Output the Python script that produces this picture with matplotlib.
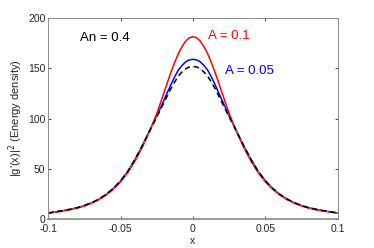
import numpy as np
import matplotlib
matplotlib.use("Agg")
import matplotlib.pyplot as plt

plt.rcParams['font.family'] = ['Liberation Sans', 'DejaVu Sans']

# sample positions (denser near the peak)
x = [-0.1, -0.095, -0.09, -0.085, -0.08, -0.075, -0.07, -0.065, -0.06, -0.055, -0.05,
     -0.045, -0.04, -0.035, -0.03, -0.025, -0.0225, -0.02, -0.0175, -0.015, -0.0125,
     -0.01, -0.0075, -0.005, -0.0025, 0, 0.0025, 0.005, 0.0075, 0.01, 0.0125, 0.015,
     0.0175, 0.02, 0.0225, 0.025, 0.03, 0.035, 0.04, 0.045, 0.05, 0.055, 0.06, 0.065,
     0.07, 0.075, 0.08, 0.085, 0.09, 0.095, 0.1]

# energy density
red_vals = [5.8, 6.8, 7.9, 9.2, 10.8, 12.9, 15.7, 19.2, 23.8, 29.7, 37,
            46.2, 57.8, 71.5, 87, 105, 115.4, 126, 136.6, 147, 156.4,
            165, 171.8, 177.2, 180.4, 181.5, 180.4, 177.2, 171.8, 165, 156.4, 147,
            136.6, 126, 115.4, 105, 87, 71.5, 57.8, 46.2, 37, 29.7, 23.8, 19.2,
            15.7, 12.9, 10.8, 9.2, 7.9, 6.8, 5.8]
blue_vals = [6.0, 7.1, 8.3, 9.6, 11.2, 13.4, 16.2, 19.8, 24.5, 30.5, 38,
             47.5, 59.5, 73, 88, 102.5, 110.4, 118.5, 126.6, 134.5, 142.0,
             148.5, 153.0, 156.5, 158.4, 159, 158.4, 156.5, 153.0, 148.5, 142.0, 134.5,
             126.6, 118.5, 110.4, 102.5, 88, 73, 59.5, 47.5, 38, 30.5, 24.5, 19.8,
             16.2, 13.4, 11.2, 9.6, 8.3, 7.1, 6.0]
black_vals = [6.0, 7.1, 8.3, 9.6, 11.2, 13.4, 16.2, 19.8, 24.5, 30.5, 38,
              47.5, 59.5, 73, 87.5, 101.5, 108.8, 116, 123.4, 130.5, 136.8,
              142.5, 146.5, 149.6, 151.4, 152, 151.4, 149.6, 146.5, 142.5, 136.8, 130.5,
              123.4, 116, 108.8, 101.5, 87.5, 73, 59.5, 47.5, 38, 30.5, 24.5, 19.8,
              16.2, 13.4, 11.2, 9.6, 8.3, 7.1, 6.0]
green_vals = [5.9, 7.0, 8.2, 9.5, 11.1, 13.3, 16.1, 19.7, 24.4, 30.4, 37.9,
              47.3, 59.3, 72.8, 87.3, 101.2, 108.5, 115.7, 123.0, 130.1, 136.3,
              142.0, 146.0, 149.0, 150.8, 151.3, 150.8, 149.0, 146.0, 142.0, 136.3, 130.1,
              123.0, 115.7, 108.5, 101.2, 87.3, 72.8, 59.3, 47.3, 37.9, 30.4, 24.4, 19.7,
              16.1, 13.3, 11.1, 9.5, 8.2, 7.0, 5.9]

xticks = [-0.1, -0.05, 0, 0.05, 0.1]
xtick_labels = ['-0.1', '-0.05', '0', '0.05', '0.1']
yticks = [0, 50, 100, 150, 200]

fig = plt.figure(figsize=(3.74, 2.48), dpi=100)
ax = fig.add_axes([0.129, 0.117, 0.774, 0.81])

ax.plot(x, blue_vals, color='#0000ff', lw=1.1)
ax.plot(x, red_vals, color='#ff0000', lw=1.1)
ax.plot(x, green_vals, color='#8fdc8f', lw=0.8, linestyle=':')
ax.plot(x, black_vals, color='black', lw=1.1, linestyle=(0, (3.5, 2.5)))

ax.set_xlim(-0.1, 0.1)
ax.set_ylim(0, 200)
ax.set_xticks(xticks)
ax.set_xticklabels(xtick_labels)
ax.set_yticks(yticks)
ax.tick_params(direction='in', length=2.5, width=0.6, top=True, right=True,
               labelsize=7.5, colors='#262626')
ax.tick_params(axis='x', pad=3.5)
ax.tick_params(axis='y', pad=2)
for s in ax.spines.values():
    s.set_color('#8c8c8c')
    s.set_linewidth(0.7)
ax.spines['bottom'].set_linewidth(1.2)

ax.set_xlabel('x', fontsize=7.5, color='#262626', labelpad=1.5)
ax.set_ylabel("|g'(x)|$^2$ (Energy density)", fontsize=8, color='#262626', labelpad=2)

ax.text(-0.0778, 180, 'An = 0.4', fontsize=9.5, color='black', va='center')
ax.text(0.0104, 182, 'A = 0.1', fontsize=9.5, color='#ff0000', va='center')
ax.text(0.0222, 147, 'A = 0.05', fontsize=9.5, color='#0000ff', va='center')

fig.savefig('out.png', dpi=100)
